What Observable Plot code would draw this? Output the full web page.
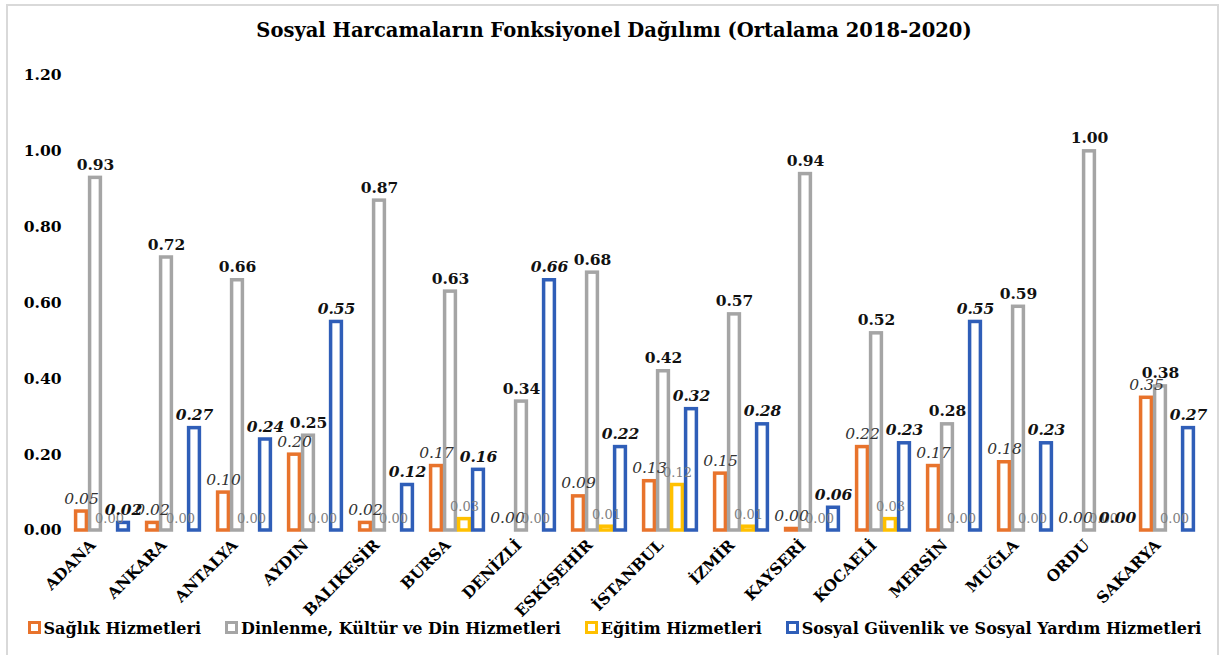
<!DOCTYPE html>
<html><head><meta charset="utf-8">
<script src="https://cdn.jsdelivr.net/npm/d3@7"></script>
<script src="https://cdn.jsdelivr.net/npm/@observablehq/plot@0.6"></script>
<style>
body{margin:0;background:#fff;font-family:"DejaVu Serif",serif;}
#frame{position:absolute;left:6px;top:4px;width:1213px;height:700px;border:2px solid #d9d9d9;box-sizing:border-box;}
#title{position:absolute;left:0;top:19px;width:1228px;text-align:center;font-weight:bold;font-size:19.5px;color:#000;font-family:"DejaVu Serif",serif;}
#chart{position:absolute;left:0;top:50px;}
#legend{position:absolute;left:4px;top:619px;width:1221px;display:flex;justify-content:center;gap:24px;font-weight:bold;font-size:16px;color:#000;font-family:"DejaVu Serif",serif;}
#legend span.sw{display:inline-block;width:7px;height:7px;border:3px solid;background:#fff;margin-right:3px;vertical-align:0px;}
</style></head>
<body>
<div id="frame"></div>
<div id="title">Sosyal Harcamaların Fonksiyonel Dağılımı (Ortalama 2018-2020)</div>
<div id="chart"></div>
<div id="legend"></div>
<script>
const cities = ["ADANA","ANKARA","ANTALYA","AYDIN","BALIKESİR","BURSA","DENİZLİ","ESKİŞEHİR","İSTANBUL","İZMİR","KAYSERİ","KOCAELİ","MERSİN","MUĞLA","ORDU","SAKARYA"];
const series = ["Sağlık Hizmetleri","Dinlenme, Kültür ve Din Hizmetleri","Eğitim Hizmetleri","Sosyal Güvenlik ve Sosyal Yardım Hizmetleri"];
const colors = ["#E8732C","#A5A5A5","#FFC000","#2F5EB8"];
const saglik   = [0.05,0.02,0.10,0.20,0.02,0.17,0.00,0.09,0.13,0.15,0.004,0.22,0.17,0.18,0.00,0.35];
const dinlenme = [0.93,0.72,0.66,0.25,0.87,0.63,0.34,0.68,0.42,0.57,0.94,0.52,0.28,0.59,1.00,0.38];
const egitim   = [0.00,0.00,0.00,0.00,0.00,0.03,0.00,0.01,0.12,0.01,0.00,0.03,0.00,0.00,0.00,0.00];
const sosyal   = [0.02,0.27,0.24,0.55,0.12,0.16,0.66,0.22,0.32,0.28,0.06,0.23,0.55,0.23,0.00,0.27];
const yTicks = [0,0.2,0.4,0.6,0.8,1.0,1.2];

const valueSets = [saglik, dinlenme, egitim, sosyal];
const data = [];
cities.forEach((c,i)=>valueSets.forEach((vals,s)=>data.push({city:c, series:series[s], value:vals[i]})));
const bySeries = s => data.filter(d=>d.series===series[s]);
const fmt = d => d.value.toFixed(2);

const labelStyles = [
  {fontStyle:"italic", fontWeight:"normal", fill:"#333", fontSize:15.5},
  {fontStyle:"normal", fontWeight:"bold", fill:"#111", fontSize:15.5},
  {fontStyle:"normal", fontWeight:"normal", fill:"#7f7f7f", fontSize:13},
  {fontStyle:"italic", fontWeight:"bold", fill:"#111", fontSize:15.5}
];

const chart = Plot.plot({
  width:1221, height:555,
  marginLeft:67, marginRight:20, marginTop:25, marginBottom:75,
  style:{fontFamily:"DejaVu Serif, serif", fontSize:"15.5px", fontWeight:"bold", color:"#000", overflow:"visible", background:"transparent"},
  fx:{domain:cities, padding:0.2, axis:"bottom", label:null, tickRotate:-45, tickSize:0, tickPadding:12},
  x:{domain:series, axis:null, padding:0},
  y:{domain:[0,1.2], ticks:yTicks, tickFormat:d=>d.toFixed(2), tickSize:0, tickPadding:12, label:null},
  color:{domain:series, range:colors},
  marks:[
    Plot.barY(data.filter(d=>d.value>0), {fx:"city", x:"series", y:"value", stroke:"series", fill:"white", strokeWidth:3.5, insetLeft:1.6, insetRight:1.6}),
    ...labelStyles.map((st,s)=>Plot.text(bySeries(s), {fx:"city", x:"series", y:"value", text:fmt, lineAnchor:"bottom", dy:-8, ...st}))
  ]
});
// shift rotated fx tick labels slightly left like the reference
chart.querySelectorAll("g[aria-label='fx-axis tick label']").forEach(g=>{
  const t = g.getAttribute("transform") || "";
  g.setAttribute("transform", (t + " translate(-9,0)").trim());
});
document.getElementById("chart").appendChild(chart);

const lg = document.getElementById("legend");
series.forEach((s,i)=>{
  const it = document.createElement("div");
  it.innerHTML = `<span class="sw" style="border-color:${colors[i]}"></span>${s}`;
  lg.appendChild(it);
});
</script>
</body></html>
